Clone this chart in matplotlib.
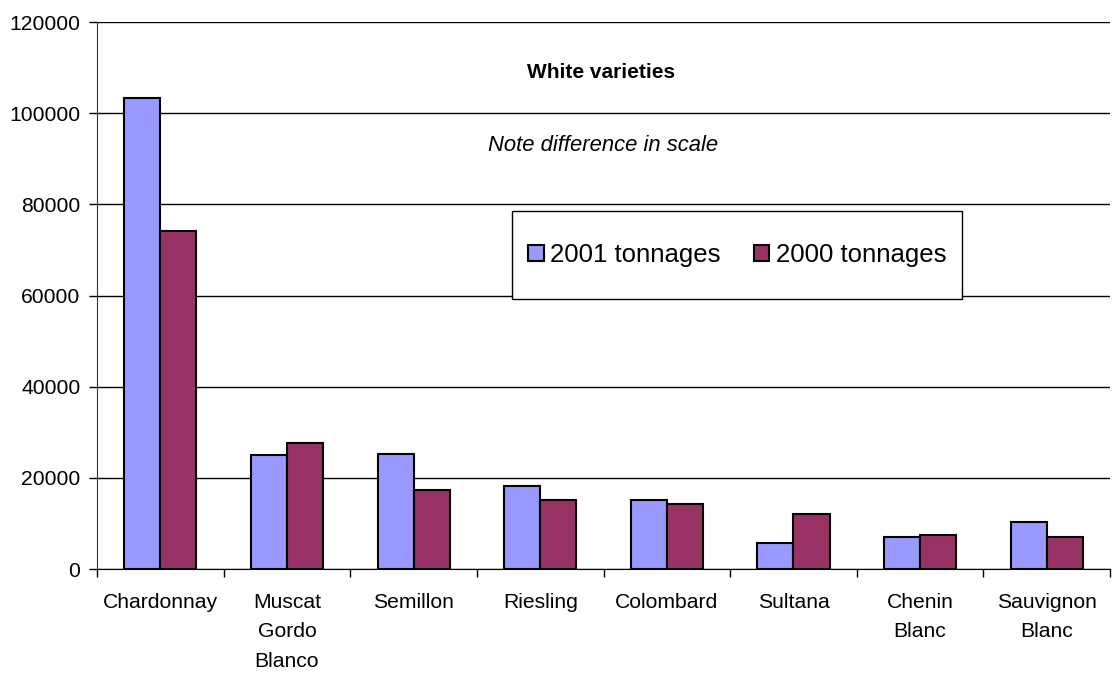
import matplotlib.pyplot as plt
import numpy as np
from matplotlib.patches import Rectangle

plt.rcParams['font.family'] = ['Liberation Sans', 'DejaVu Sans']

varieties = ['Chardonnay', 'Muscat\nGordo\nBlanco', 'Semillon', 'Riesling',
             'Colombard', 'Sultana', 'Chenin\nBlanc', 'Sauvignon\nBlanc']
tonnes_2001 = [103400, 25000, 25300, 18200, 15100, 5700, 7100, 10300]
tonnes_2000 = [74200, 27600, 17400, 15100, 14300, 12000, 7500, 7100]
series_labels = ['2001 tonnages', '2000 tonnages']
y_ticks = [0, 20000, 40000, 60000, 80000, 100000, 120000]

fig = plt.figure(figsize=(11.13, 6.73), dpi=100)
ax = fig.add_axes([0.0872, 0.1545, 0.9101, 0.8128])

x = np.arange(len(varieties))
w = 0.285
ax.bar(x - w / 2, tonnes_2001, w, color='#9999FF', edgecolor='black',
       linewidth=1.5, zorder=3, label=series_labels[0])
ax.bar(x + w / 2, tonnes_2000, w, color='#993366', edgecolor='black',
       linewidth=1.5, zorder=3, label=series_labels[1])

ax.set_xlim(-0.5, len(varieties) - 0.5)
ax.set_ylim(0, 120000)
ax.set_yticks(y_ticks)
ax.set_yticklabels([str(v) for v in y_ticks])
ax.yaxis.grid(True, color='black', linewidth=1)
ax.set_axisbelow(True)

# category labels at centres, tick marks between categories
ax.set_xticks(x)
ax.set_xticklabels(varieties, linespacing=1.72, va='top')
ax.set_xticks(np.arange(-0.5, len(varieties)), minor=True)
ax.tick_params(axis='x', which='major', length=0, pad=17, labelsize=15.2)
ax.tick_params(axis='x', which='minor', length=6, width=1, direction='out')
ax.tick_params(axis='y', length=6, width=1, direction='out', labelsize=15.2, pad=6)

for side in ['top', 'right']:
    ax.spines[side].set_visible(False)
ax.spines['left'].set_color('#333333')
ax.spines['bottom'].set_color('black')

ax.text(0.4975, 0.908, 'White varieties', transform=ax.transAxes,
        ha='center', va='center', fontsize=15, fontweight='bold')
ax.text(0.4995, 0.775, 'Note difference in scale', transform=ax.transAxes,
        ha='center', va='center', fontsize=15.8, style='italic')

# legend box drawn separately so it can be wider than tall
box = Rectangle((0.4097, 0.4936), 0.4442, 0.1609, transform=ax.transAxes,
                facecolor='white', edgecolor='black', linewidth=1, zorder=4)
ax.add_patch(box)
leg = ax.legend(loc='center', bbox_to_anchor=(0.632, 0.574), ncol=2,
                frameon=False, fontsize=18.5, handlelength=0.6,
                handleheight=0.6, handletextpad=0.25, columnspacing=1.3)
leg.set_zorder(5)

plt.savefig('out.png', dpi=100)
